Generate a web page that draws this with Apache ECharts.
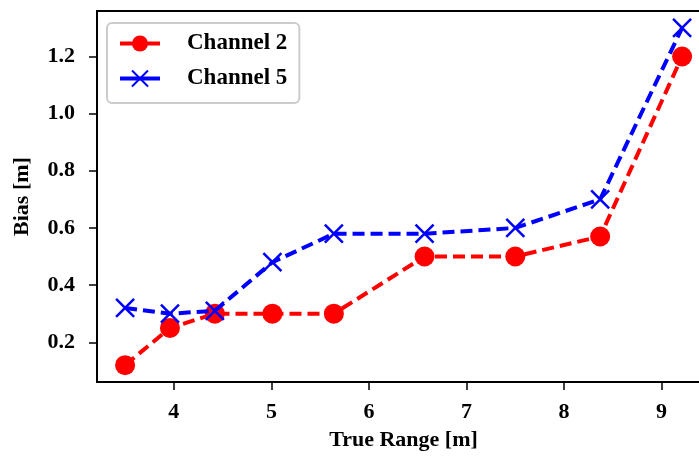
<!DOCTYPE html>
<html>
<head>
<meta charset="utf-8">
<script src="https://cdn.jsdelivr.net/npm/echarts@6/dist/echarts.min.js"></script>
<style>html,body{margin:0;padding:0;background:#fff;overflow:hidden}#c{width:720px;height:457px}</style>
</head>
<body>
<div id="c"></div>
<script>
const trueRange = [3.50, 3.96, 4.42, 5.01, 5.64, 6.57, 7.50, 8.37, 9.21];
const channel2 = [0.12, 0.25, 0.30, 0.30, 0.30, 0.50, 0.50, 0.57, 1.20];
const channel5 = [0.32, 0.30, 0.31, 0.48, 0.58, 0.58, 0.60, 0.70, 1.30];
const xTicks = [4, 5, 6, 7, 8, 9];
const yTicks = [0.2, 0.4, 0.6, 0.8, 1.0, 1.2];
const seriesNames = ['Channel 2', 'Channel 5'];

const FONT = '"Liberation Serif", "Times New Roman", serif';
const chart = echarts.init(document.getElementById('c'), null, {renderer: 'canvas'});
const pairs = (xs, ys) => xs.map((x, i) => [x, ys[i]]);
const axisCommon = {
  axisLine: {show: true, onZero: false, lineStyle: {color: '#000', width: 2}},
  axisTick: {show: true, inside: false, length: 8, lineStyle: {color: '#000', width: 1.5}},
  splitLine: {show: false},
  axisLabel: {color: '#000', fontFamily: FONT, fontWeight: 'bold', fontSize: 22},
  nameTextStyle: {color: '#000', fontFamily: FONT, fontWeight: 'bold', fontSize: 22},
  nameLocation: 'middle'
};
chart.setOption({
  animation: false,
  backgroundColor: '#fff',
  grid: {left: 97, top: 11, right: 10, bottom: 75, containLabel: false,
         show: true, borderColor: '#000', borderWidth: 2, backgroundColor: 'transparent'},
  xAxis: Object.assign({}, axisCommon, {
    type: 'value', min: 3.212, max: 9.496, name: 'True Range [m]', nameGap: 47,
    axisLabel: Object.assign({}, axisCommon.axisLabel, {
      margin: 19,
      customValues: xTicks,
      formatter: v => String(v)
    }),
    axisTick: Object.assign({}, axisCommon.axisTick, {customValues: xTicks})
  }),
  yAxis: Object.assign({}, axisCommon, {
    type: 'value', min: 0.061, max: 1.359, name: 'Bias [m]', nameGap: 64,
    axisLabel: Object.assign({}, axisCommon.axisLabel, {
      margin: 22,
      customValues: yTicks,
      formatter: v => v.toFixed(1)
    }),
    axisTick: Object.assign({}, axisCommon.axisTick, {customValues: yTicks})
  }),
  legend: {
    left: 107, top: 23, orient: 'vertical',
    itemWidth: 40, itemHeight: 20, itemGap: 12,
    padding: [9, 12, 13, 11],
    backgroundColor: '#fff', borderColor: '#cccccc', borderWidth: 2, borderRadius: 5,
    lineStyle: {type: 'solid', width: 4},
    textStyle: {color: '#000', fontFamily: FONT, fontWeight: 'bold', fontSize: 23, padding: [0, 0, 0, 22]},
    data: seriesNames
  },
  series: [
    {
      name: seriesNames[0], type: 'line', data: pairs(trueRange, channel2),
      symbol: 'circle', symbolSize: 20, showAllSymbol: true,
      itemStyle: {color: '#ff0000'},
      lineStyle: {color: '#ff0000', width: 4, type: [12, 6]},
      z: 2
    },
    {
      name: seriesNames[1], type: 'line', data: pairs(trueRange, channel5),
      symbol: 'path://M0,0L10,10M10,0L0,10', symbolSize: 18, showAllSymbol: true,
      itemStyle: {color: 'none', borderColor: '#0000ff', borderWidth: 2.5},
      lineStyle: {color: '#0000ff', width: 4, type: [12, 6]},
      z: 3
    }
  ]
});
</script>
</body>
</html>
